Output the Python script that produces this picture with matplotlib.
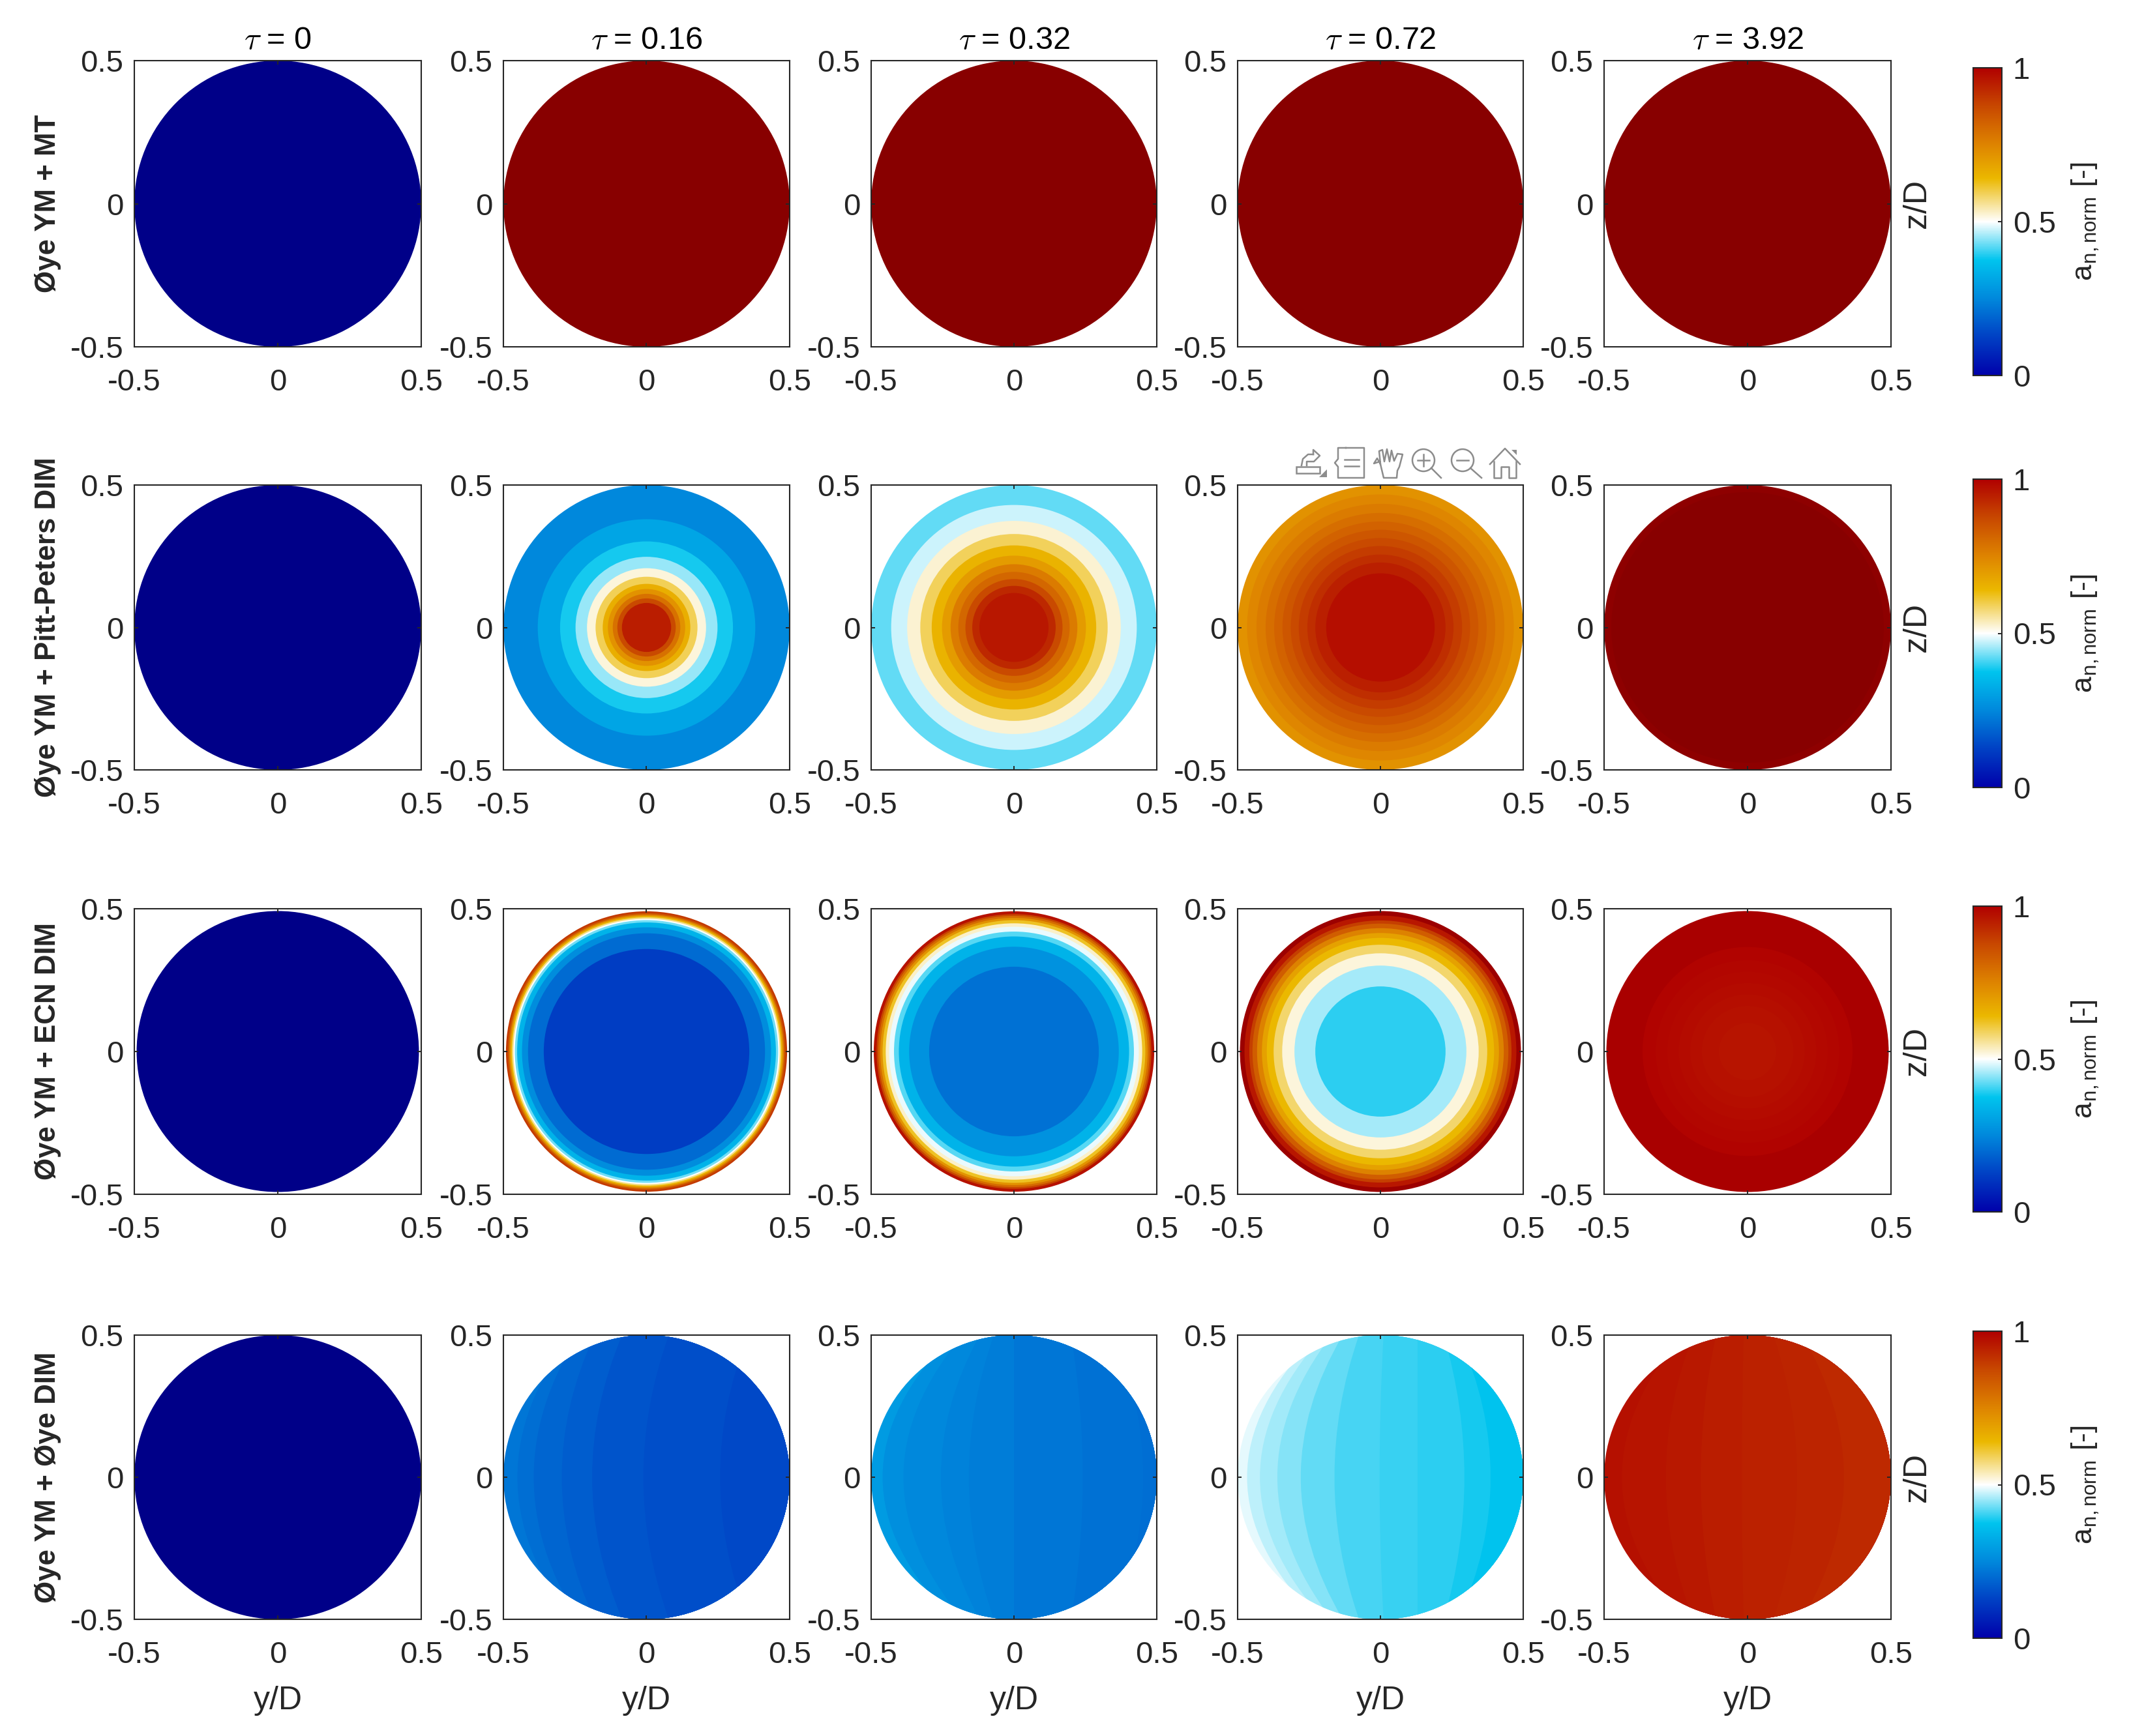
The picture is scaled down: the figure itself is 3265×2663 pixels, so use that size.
import numpy as np
import matplotlib
matplotlib.use("Agg")
import matplotlib.pyplot as plt
from matplotlib.colors import LinearSegmentedColormap, Normalize
from matplotlib.cm import ScalarMappable
from matplotlib.patches import Circle, PathPatch, Rectangle, Polygon
from matplotlib.path import Path

plt.rcParams['font.family'] = ['Liberation Sans', 'DejaVu Sans']
plt.rcParams['mathtext.fontset'] = 'cm'
plt.rcParams['mathtext.default'] = 'it'

W, H = 3266, 2663
DARK = '#262626'

# data
taus = ['0', '0.16', '0.32', '0.72', '3.92']
models = ['Øye YM + MT', 'Øye YM + Pitt-Peters DIM', 'Øye YM + ECN DIM', 'Øye YM + Øye DIM']
ticks = [-0.5, 0, 0.5]
tick_labels = ['-0.5', '0', '0.5']
cbar_ticks = [0, 0.5, 1]
cbar_labels = ['0', '0.5', '1']

# colour scale, the uniform discs sit beyond the ends of the colour bar
cmap_vals = [-0.12, 0, 0.125, 0.25, 0.375, 0.5, 0.64, 0.75, 0.875, 1, 1.12]
cmap_cols = ['#000088', '#0000AA', '#0040C4', '#0088DC', '#00C4EE', '#FFFFFF',
             '#EBB800', '#DE8400', '#C84800', '#B00000', '#880000']

# rows 1-3: concentric rings, outer radius and value of each ring
mt_r = [0.5]
mt_low = [-0.12]
mt_high = [1.12]

pp_r_0 = [0.5]
pp_v_0 = [-0.12]
pp_r_1 = [0.5, 0.38, 0.302, 0.248, 0.208, 0.178, 0.153, 0.135, 0.118, 0.102, 0.086]
pp_v_1 = [0.25, 0.31, 0.385, 0.45, 0.52, 0.593, 0.66, 0.72, 0.79, 0.87, 0.95]
pp_r_2 = [0.5, 0.43, 0.374, 0.328, 0.288, 0.252, 0.222, 0.195, 0.17, 0.146, 0.121]
pp_v_2 = [0.423, 0.475, 0.525, 0.59, 0.65, 0.70, 0.77, 0.81, 0.87, 0.93, 0.96]
pp_r_3 = [0.5, 0.467, 0.434, 0.402, 0.372, 0.343, 0.314, 0.286, 0.256, 0.228, 0.19]
pp_v_3 = [0.72, 0.745, 0.77, 0.795, 0.82, 0.845, 0.87, 0.895, 0.92, 0.945, 0.975]
pp_r_4 = [0.5, 0.475]
pp_v_4 = [1.10, 1.12]

ecn_r_0 = [0.492]
ecn_v_0 = [-0.12]
ecn_r_1 = [0.491, 0.485, 0.48, 0.475, 0.47, 0.465, 0.46, 0.452, 0.435, 0.414, 0.359]
ecn_v_1 = [0.9, 0.85, 0.75, 0.65, 0.57, 0.5, 0.43, 0.34, 0.26, 0.2, 0.12]
ecn_r_2 = [0.491, 0.481, 0.475, 0.468, 0.46, 0.449, 0.437, 0.42, 0.403, 0.367, 0.297]
ecn_v_2 = [0.97, 0.88, 0.8, 0.72, 0.62, 0.53, 0.49, 0.417, 0.34, 0.27, 0.21]
ecn_r_3 = [0.492, 0.476, 0.459, 0.448, 0.432, 0.415, 0.398, 0.374, 0.344, 0.301, 0.228]
ecn_v_3 = [1.06, 0.96, 0.89, 0.83, 0.755, 0.69, 0.64, 0.58, 0.52, 0.456, 0.397]
ecn_r_4 = [0.492, 0.366, 0.32, 0.28, 0.24, 0.2, 0.16, 0.1]
ecn_v_4 = [1.02, 0.995, 0.99, 0.985, 0.98, 0.975, 0.97, 0.965]

# row 4: curved vertical bands, left edge of each band at z=0 and at z=+-0.5
oye_r_0 = [0.5]
oye_v_0 = [-0.12]
oye_mid_1 = [-0.5, -0.451, -0.394, -0.296, -0.19, -0.011, 0.257]
oye_top_1 = [-0.5, -0.264, -0.239, -0.182, -0.085, 0.078, 0.355]
oye_v_1 = [0.219, 0.205, 0.19, 0.175, 0.16, 0.15, 0.139]
oye_mid_2 = [-0.5, -0.46, -0.387, -0.256, -0.158, 0.0, 0.241, 0.453]
oye_top_2 = [-0.5, -0.216, -0.18, -0.12, -0.07, 0.0, 0.2, 0.35]
oye_v_2 = [0.29, 0.265, 0.25, 0.24, 0.23, 0.22, 0.21, 0.205]
oye_mid_3 = [-0.5, -0.467, -0.422, -0.361, -0.279, -0.161, -0.003, 0.13, 0.294, 0.386]
oye_top_3 = [-0.5, -0.22, -0.2, -0.171, -0.132, -0.075, 0.011, 0.13, 0.222, 0.273]
oye_v_3 = [0.487, 0.468, 0.454, 0.44, 0.423, 0.41, 0.402, 0.397, 0.385, 0.372]
oye_mid_4 = [-0.5, -0.438, -0.285, -0.163, -0.02, 0.173, 0.336]
oye_top_4 = [-0.5, -0.23, -0.19, -0.11, -0.014, 0.09, 0.19]
oye_v_4 = [0.972, 0.965, 0.958, 0.95, 0.943, 0.936, 0.928]

rings = [
    [(mt_r, mt_low), (mt_r, mt_high), (mt_r, mt_high), (mt_r, mt_high), (mt_r, mt_high)],
    [(pp_r_0, pp_v_0), (pp_r_1, pp_v_1), (pp_r_2, pp_v_2), (pp_r_3, pp_v_3), (pp_r_4, pp_v_4)],
    [(ecn_r_0, ecn_v_0), (ecn_r_1, ecn_v_1), (ecn_r_2, ecn_v_2), (ecn_r_3, ecn_v_3), (ecn_r_4, ecn_v_4)],
]
bands = [(oye_mid_1, oye_top_1, oye_v_1), (oye_mid_2, oye_top_2, oye_v_2),
         (oye_mid_3, oye_top_3, oye_v_3), (oye_mid_4, oye_top_4, oye_v_4)]

# layout in pixels
col_x = [(206, 646), (772, 1211), (1336, 1774), (1898, 2336), (2460, 2900)]
row_y = [(93, 532), (744, 1181), (1394, 1832), (2048, 2484)]
cbar_x = (3026, 3070)
cbar_y = [(104, 576), (735, 1208), (1390, 1859), (2042, 2513)]

norm = Normalize(cmap_vals[0], cmap_vals[-1])
stops = [(v - cmap_vals[0]) / (cmap_vals[-1] - cmap_vals[0]) for v in cmap_vals]
cmap = LinearSegmentedColormap.from_list('an', list(zip(stops, cmap_cols)), N=1024)


def new_axes(x, y):
    return fig.add_axes([x[0] / W, 1 - y[1] / H, (x[1] - x[0]) / W, (y[1] - y[0]) / H])


def draw_rings(ax, radii, values):
    for r, v in zip(radii, values):
        ax.add_patch(Circle((0, 0), r, fc=cmap(norm(v)), ec='none', zorder=1))


def draw_bands(ax, mids, tops, values):
    disc = Circle((0, 0), 0.5, transform=ax.transData)
    for m, t, v in zip(mids, tops, values):
        # quadratic curve through the three points read on the band edge
        verts = [(t, 0.5), (2 * m - t, 0), (t, -0.5), (0.6, -0.5), (0.6, 0.5), (t, 0.5)]
        codes = [Path.MOVETO, Path.CURVE3, Path.CURVE3, Path.LINETO, Path.LINETO, Path.CLOSEPOLY]
        if t == -0.5:
            verts = [(-0.6, 0.5), (-0.6, 0), (-0.6, -0.5), (0.6, -0.5), (0.6, 0.5), (-0.6, 0.5)]
        patch = PathPatch(Path(verts, codes), fc=cmap(norm(v)), ec='none', zorder=1)
        ax.add_patch(patch)
        patch.set_clip_path(disc)


fig = plt.figure(figsize=(W / 200, H / 200), dpi=200)

for i, y in enumerate(row_y):
    for j, x in enumerate(col_x):
        ax = new_axes(x, y)
        if i < 3:
            draw_rings(ax, *rings[i][j])
        elif j == 0:
            draw_rings(ax, oye_r_0, oye_v_0)
        else:
            draw_bands(ax, *bands[j - 1])
        ax.set_xlim(-0.5, 0.5)
        ax.set_ylim(-0.5, 0.5)
        ax.set_xticks(ticks)
        ax.set_xticklabels(tick_labels)
        ax.set_yticks(ticks)
        ax.set_yticklabels(tick_labels)
        ax.tick_params(axis='both', direction='in', length=2, width=0.7, color=DARK,
                       labelcolor=DARK, labelsize=17, top=True, right=True)
        ax.tick_params(axis='x', pad=12)
        ax.tick_params(axis='y', pad=6)
        for s in ax.spines.values():
            s.set_color(DARK)
            s.set_linewidth(0.75)
            s.set_zorder(3)
        if i == 0:
            ax.set_title(r'$\tau$ = ' + taus[j], fontsize=17.5, color='black', pad=6.5)
        if i == 3:
            ax.set_xlabel('y/D', fontsize=18, color=DARK, labelpad=9)
        if j == 0:
            ax.set_ylabel(models[i], fontsize=15.8, fontweight='bold', color=DARK, labelpad=5)
        if j == 4:
            ax.yaxis.set_label_position('right')
            ax.set_ylabel('z/D', fontsize=18, color=DARK, labelpad=6)

    cax = new_axes(cbar_x, cbar_y[i])
    cb = fig.colorbar(ScalarMappable(norm=norm, cmap=cmap), cax=cax)
    cax.set_ylim(0, 1)
    cb.set_ticks(cbar_ticks)
    cb.set_ticklabels(cbar_labels)
    cb.outline.set_edgecolor(DARK)
    cb.outline.set_linewidth(0.75)
    cax.tick_params(direction='in', length=2, width=0.7, color=DARK, labelcolor=DARK,
                    labelsize=17, pad=6)
    cb.set_label(r'a$_{\mathregular{n,norm}}$ [-]', fontsize=16, color=DARK, labelpad=8)

# axes toolbar left over in the exported figure, drawn in pixel coordinates
over = fig.add_axes([0, 0, 1, 1], facecolor='none')
over.set_xlim(0, W)
over.set_ylim(H, 0)
over.axis('off')
GREY = '#8C8C8C'
tb = dict(color=GREY, lw=0.9)
# export
over.add_patch(Rectangle((1988, 716), 36, 10, fc='none', ec=GREY, lw=0.9))
over.plot([1996, 1998, 2006, 2014], [714, 704, 697, 697], **tb)
over.plot([2004, 2004, 2015, 2024, 2014, 2014], [714, 708, 708, 699, 690, 697], **tb)
over.add_patch(Polygon([(2035, 720), (2035, 732), (2023, 732)], fc=GREY, ec='none'))
# data tips
over.plot([2064, 2092, 2092, 2052, 2052, 2047, 2052, 2052, 2064], [687, 687, 733, 733, 716, 710, 704, 687, 687], **tb)
over.plot([2062, 2084], [705, 705], **tb)
over.plot([2062, 2084], [715, 715], **tb)
# pan
over.plot([2116, 2107, 2112, 2117, 2115, 2120, 2123, 2127, 2131, 2134, 2138, 2143, 2151, 2146, 2143, 2142, 2122, 2116],
          [708, 711, 703, 712, 692, 690, 708, 689, 708, 691, 707, 696, 697, 716, 722, 733, 733, 708], **tb)
# zoom in
over.add_patch(Circle((2183, 706), 17, fc='none', ec=GREY, lw=0.9))
over.plot([2195, 2210], [718, 733], **tb)
over.plot([2174, 2192], [706, 706], **tb)
over.plot([2183, 2183], [697, 715], **tb)
# zoom out
over.add_patch(Circle((2243, 706), 17, fc='none', ec=GREY, lw=0.9))
over.plot([2255, 2272], [718, 733], **tb)
over.plot([2234, 2252], [706, 706], **tb)
# home
over.plot([2285, 2308, 2331], [712, 688, 712], **tb)
over.plot([2291, 2291, 2302, 2302, 2314, 2314, 2325, 2325], [708, 733, 733, 716, 716, 733, 733, 708], **tb)
over.add_patch(Polygon([(2318, 690), (2326, 690), (2326, 698)], fc=GREY, ec='none'))
over.set_xlim(0, W)
over.set_ylim(H, 0)

fig.savefig('out.png', dpi=200, facecolor='white')
